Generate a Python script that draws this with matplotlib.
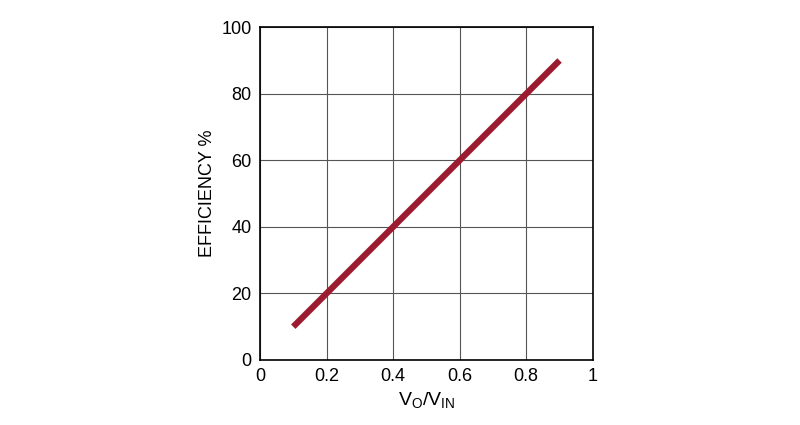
import matplotlib
matplotlib.use("Agg")
import matplotlib.pyplot as plt

plt.rcParams['font.family'] = ['Liberation Sans Narrow', 'Liberation Sans', 'DejaVu Sans']

ratio = [0.1, 0.9]
efficiency = [10, 90]
xticks = [0, 0.2, 0.4, 0.6, 0.8, 1]
xticklabels = ['0', '0.2', '0.4', '0.6', '0.8', '1']
yticks = [0, 20, 40, 60, 80, 100]

fig = plt.figure(figsize=(8, 4.25), dpi=100)
ax = fig.add_axes([0.325, 0.153, 0.416, 0.783])
ax.plot(ratio, efficiency, color='#9b1b30', lw=4.5, solid_capstyle='butt')
ax.set_xlim(0, 1)
ax.set_ylim(0, 100)
ax.set_xticks(xticks)
ax.set_xticklabels(xticklabels)
ax.set_yticks(yticks)
ax.grid(True, color='#555555', lw=0.8)
ax.tick_params(length=0, labelsize=13, pad=6)
for s in ax.spines.values():
    s.set_color('black'); s.set_linewidth(1.2)
ax.set_xlabel(r'V$_\mathregular{O}$/V$_\mathregular{IN}$', fontsize=14)
ax.set_ylabel('EFFICIENCY %', fontsize=13)
fig.savefig('out.png', dpi=100)
